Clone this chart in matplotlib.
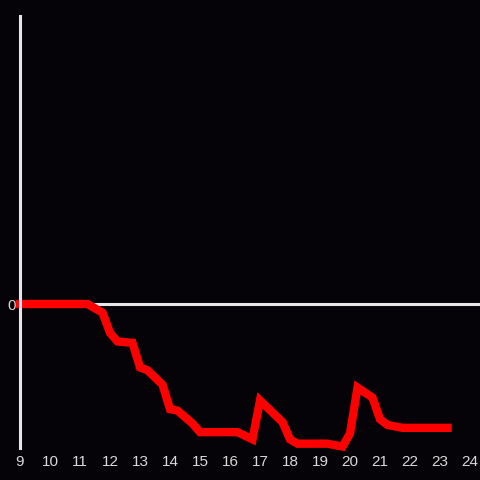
import matplotlib
matplotlib.use('Agg')
import matplotlib.pyplot as plt

# hours of the day and the value of the series
hours = [9, 11.25, 11.75, 12.0, 12.25, 12.75, 13.0, 13.25, 13.75, 14.0, 14.25,
         14.75, 15.0, 16.25, 16.75, 17.0, 17.75, 18.0, 18.25, 19.25, 19.75,
         20.0, 20.25, 20.75, 21.0, 21.25, 21.75, 23.25]
values = [0, 0, -0.6, -2.0, -2.6, -2.7, -4.4, -4.6, -5.6, -7.3, -7.4,
          -8.3, -8.9, -8.9, -9.4, -6.7, -8.2, -9.4, -9.7, -9.7, -9.9,
          -9.0, -5.8, -6.5, -8.0, -8.4, -8.6, -8.6]
xticks = list(range(9, 25))
yticks = [0]

bg = '#050307'
fg = '#e6e6e6'

plt.rcParams['font.family'] = ['Liberation Sans', 'DejaVu Sans']

fig = plt.figure(figsize=(4.8, 4.8), dpi=100, facecolor=bg)
ax = fig.add_axes([20 / 480, 32 / 480, 460 / 480, 432 / 480])
ax.set_facecolor(bg)

ax.axhline(0, color=fg, lw=2.2, zorder=1)
ax.plot(hours, values, color='#ff0000', lw=6, solid_joinstyle='miter',
        zorder=2, clip_on=False)

ax.set_xlim(9, 24 + 1 / 3)
ax.set_ylim(-10, 20)
ax.set_xticks(xticks)
ax.set_yticks(yticks)

for s in ['top', 'right', 'bottom']:
    ax.spines[s].set_visible(False)
ax.spines['left'].set_color(fg)
ax.spines['left'].set_linewidth(2.2)
ax.spines['left'].set_zorder(3)

ax.tick_params(axis='both', length=0, colors='#d9d9d9', labelsize=11)
ax.tick_params(axis='x', pad=5)
ax.tick_params(axis='y', pad=3)

fig.savefig('out.png', dpi=100, facecolor=bg)
